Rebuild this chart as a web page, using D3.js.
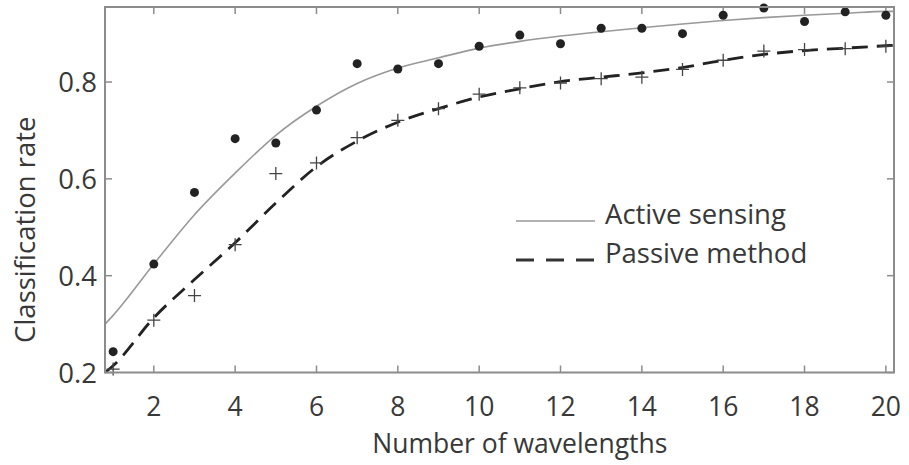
<!DOCTYPE html>
<html>
<head>
<meta charset="utf-8">
<script src="https://cdn.jsdelivr.net/npm/d3@7"></script>
<style>
  body { margin: 0; background: #fff; }
  text { font-family: "Open Sans", sans-serif; fill: #383838; }
</style>
</head>
<body>
<div id="chart"></div>
<script>
// measured points
const wavelengths = [1, 2, 3, 4, 5, 6, 7, 8, 9, 10, 11, 12, 13, 14, 15, 16, 17, 18, 19, 20];
const activePoints = [0.243, 0.424, 0.572, 0.683, 0.674, 0.742, 0.838, 0.827, 0.838, 0.874,
                      0.897, 0.879, 0.911, 0.911, 0.900, 0.938, 0.953, 0.925, 0.945, 0.938];
const passivePoints = [0.207, 0.308, 0.359, 0.464, 0.611, 0.633, 0.685, 0.721, 0.745, 0.775,
                       0.788, 0.798, 0.807, 0.810, 0.826, 0.845, 0.864, 0.867, 0.869, 0.874];

// fitted curves
const curveX = [0.8, 1, 2, 3, 4, 5, 6, 7, 8, 9, 10, 11, 12, 13, 14, 15, 16, 17, 18, 19, 20, 20.2];
const activeFit = [0.300, 0.318, 0.424, 0.526, 0.612, 0.690, 0.750, 0.797, 0.829, 0.850, 0.870,
                   0.884, 0.895, 0.904, 0.912, 0.920, 0.927, 0.933, 0.938, 0.942, 0.946, 0.946];
const passiveFit = [0.200, 0.214, 0.313, 0.392, 0.468, 0.550, 0.625, 0.678, 0.717, 0.745, 0.769,
                    0.786, 0.801, 0.810, 0.819, 0.830, 0.845, 0.857, 0.865, 0.870, 0.875, 0.876];

const xTicks = [2, 4, 6, 8, 10, 12, 14, 16, 18, 20];
const yTicks = [0.2, 0.4, 0.6, 0.8];
const legendLabels = ["Active sensing", "Passive method"];

const W = 909, H = 465;
const margin = {top: 7, right: 15, bottom: 92.5, left: 105};
const width = W - margin.left - margin.right,
      height = H - margin.top - margin.bottom;

const svg = d3.select("#chart").append("svg")
    .attr("width", W)
    .attr("height", H)
  .append("g")
    .attr("transform", "translate(" + margin.left + "," + margin.top + ")");

const x = d3.scaleLinear().domain([0.8, 20.2]).range([0, width]);
const y = d3.scaleLinear().domain([0.2, 0.955]).range([height, 0]);

const frameColor = "#8c8c8c";

// ticks, all pointing inward
const tickLen = 7;
svg.selectAll(".xtick-b").data(xTicks).enter().append("line")
    .attr("x1", d => x(d)).attr("x2", d => x(d))
    .attr("y1", height).attr("y2", height - tickLen)
    .attr("stroke", frameColor).attr("stroke-width", 1.5);
svg.selectAll(".xtick-t").data(xTicks).enter().append("line")
    .attr("x1", d => x(d)).attr("x2", d => x(d))
    .attr("y1", 0).attr("y2", tickLen)
    .attr("stroke", frameColor).attr("stroke-width", 1.5);
svg.selectAll(".ytick-l").data(yTicks).enter().append("line")
    .attr("x1", 0).attr("x2", tickLen)
    .attr("y1", d => y(d)).attr("y2", d => y(d))
    .attr("stroke", frameColor).attr("stroke-width", 1.5);
svg.selectAll(".ytick-r").data(yTicks).enter().append("line")
    .attr("x1", width).attr("x2", width - tickLen)
    .attr("y1", d => y(d)).attr("y2", d => y(d))
    .attr("stroke", frameColor).attr("stroke-width", 1.5);

// tick labels
svg.selectAll(".xlab").data(xTicks).enter().append("text")
    .attr("x", d => x(d))
    .attr("y", height + 43)
    .attr("text-anchor", "middle")
    .style("font-size", "26.5px")
    .text(d => d);
svg.selectAll(".ylab").data(yTicks).enter().append("text")
    .attr("x", -8)
    .attr("y", d => y(d) + 10)
    .attr("text-anchor", "end")
    .style("font-size", "27.5px")
    .text(d => d3.format(".1f")(d));

// axis titles
svg.append("text")
    .attr("x", x(11))
    .attr("y", height + 80)
    .attr("text-anchor", "middle")
    .style("font-size", "26.5px")
    .text("Number of wavelengths");
svg.append("text")
    .attr("transform", "translate(" + (-70) + "," + (y(0.495)) + ") rotate(-90)")
    .attr("text-anchor", "middle")
    .style("font-size", "27.5px")
    .text("Classification rate");

// fitted lines
const line = d3.line()
    .x(d => x(d[0]))
    .y(d => y(d[1]))
    .curve(d3.curveMonotoneX);

svg.append("path")
    .datum(curveX.map((v, i) => [v, activeFit[i]]))
    .attr("d", line)
    .attr("fill", "none")
    .attr("stroke", "#999")
    .attr("stroke-width", 1.6);

svg.append("path")
    .datum(curveX.map((v, i) => [v, passiveFit[i]]))
    .attr("d", line)
    .attr("fill", "none")
    .attr("stroke", "#222")
    .attr("stroke-width", 2.8)
    .attr("stroke-dasharray", "16,9");

// markers
svg.selectAll(".dot").data(wavelengths).enter().append("circle")
    .attr("cx", d => x(d))
    .attr("cy", (d, i) => y(activePoints[i]))
    .attr("r", 4.5)
    .attr("fill", "#222");

const plus = 6.5;
svg.selectAll(".plus").data(wavelengths).enter().append("path")
    .attr("d", (d, i) => {
        const cx = x(d), cy = y(passivePoints[i]);
        return `M${cx - plus},${cy}H${cx + plus}M${cx},${cy - plus}V${cy + plus}`;
    })
    .attr("stroke", "#444")
    .attr("stroke-width", 1.3)
    .attr("fill", "none");

// frame
svg.append("rect")
    .attr("width", width).attr("height", height)
    .attr("fill", "none")
    .attr("stroke", frameColor)
    .attr("stroke-width", 2);

// legend
const lg = svg.append("g").attr("transform", "translate(" + (516 - margin.left) + "," + (221 - margin.top) + ")");
lg.append("line").attr("x1", 0).attr("x2", 79).attr("y1", 0).attr("y2", 0)
    .attr("stroke", "#999").attr("stroke-width", 1.6);
lg.append("line").attr("x1", 0).attr("x2", 79).attr("y1", 39).attr("y2", 39)
    .attr("stroke", "#333").attr("stroke-width", 2.8).attr("stroke-dasharray", "18,12");
lg.selectAll(".leg").data(legendLabels).enter().append("text")
    .attr("x", 89)
    .attr("y", (d, i) => 3 + i * 39)
    .style("font-size", "27.5px")
    .text(d => d);
</script>
</body>
</html>
